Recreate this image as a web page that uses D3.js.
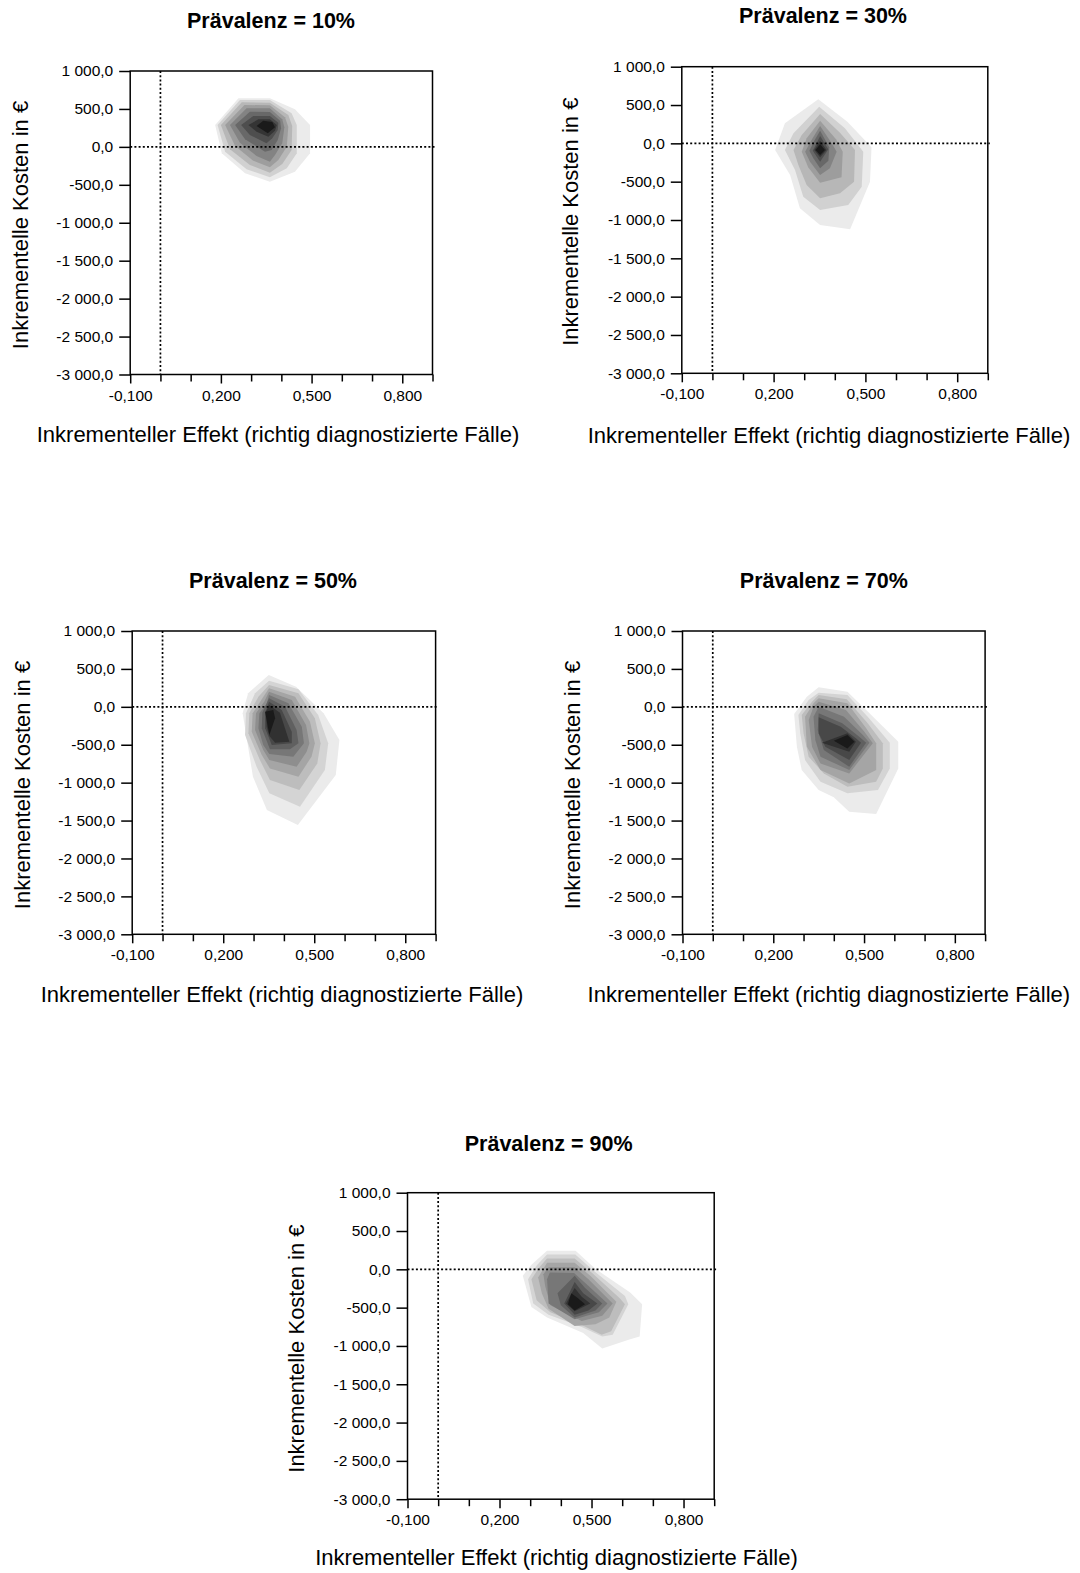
<!DOCTYPE html>
<html>
<head>
<meta charset="utf-8">
<script src="https://cdn.jsdelivr.net/npm/d3@7"></script>
<style>
  body { margin: 0; background: #ffffff; }
  text { font-family: "Liberation Sans", Arial, sans-serif; fill: #000; }
</style>
</head>
<body>
<svg id="chart" width="1080" height="1573"></svg>
<script>
// ---------------- data ----------------
const panelTitles = ["Prävalenz = 10%", "Prävalenz = 30%", "Prävalenz = 50%", "Prävalenz = 70%", "Prävalenz = 90%"];
const xAxisTitle = "Inkrementeller Effekt (richtig diagnostizierte Fälle)";
const yAxisTitle = "Inkrementelle Kosten in €";

const xDomain = [-0.1, 0.9];
const yDomain = [-3000, 1000];
const xMinorTicks = [0.0, 0.1, 0.3, 0.4, 0.6, 0.7, 0.9];
const xMajorTicks = [-0.1, 0.2, 0.5, 0.8];
const xTickLabels = ["-0,100", "0,200", "0,500", "0,800"];
const yTicks = [1000, 500, 0, -500, -1000, -1500, -2000, -2500, -3000];
const yTickLabels = ["1 000,0", "500,0", "0,0", "-500,0", "-1 000,0", "-1 500,0", "-2 000,0", "-2 500,0", "-3 000,0"];

// density contour bands (outermost first), [effect, cost]
const contours10 = [
  [[0.181,288],[0.258,640],[0.362,640],[0.445,495],[0.495,288],[0.495,-85],[0.445,-327],[0.362,-458],[0.280,-349],[0.203,-85]],
  [[0.189,288],[0.263,618],[0.362,618],[0.434,442],[0.451,288],[0.451,-85],[0.418,-283],[0.362,-401],[0.285,-296],[0.214,-63]],
  [[0.200,288],[0.269,587],[0.362,583],[0.423,420],[0.436,275],[0.434,-41],[0.403,-226],[0.362,-340],[0.296,-239],[0.230,-32]],
  [[0.214,288],[0.278,552],[0.362,548],[0.412,389],[0.423,266],[0.418,3],[0.390,-173],[0.362,-270],[0.307,-182],[0.247,12]],
  [[0.230,288],[0.285,508],[0.362,508],[0.403,363],[0.410,258],[0.403,47],[0.379,-107],[0.362,-195],[0.318,-120],[0.263,56]],
  [[0.247,288],[0.296,464],[0.362,460],[0.396,345],[0.399,244],[0.388,91],[0.368,-41],[0.346,-63],[0.280,100]],
  [[0.267,288],[0.307,407],[0.362,407],[0.390,319],[0.388,222],[0.370,113],[0.351,47],[0.296,157]],
  [[0.291,288],[0.324,363],[0.362,363],[0.385,288],[0.379,214],[0.357,135],[0.318,200]],
  [[0.318,275],[0.340,345],[0.370,328],[0.379,258],[0.355,178]]
];

const contours30 = [
  [[0.346,574],[0.441,283],[0.520,-52],[0.515,-500],[0.450,-1122],[0.352,-1065],[0.286,-848],[0.254,-413],[0.205,-87],[0.237,261]],
  [[0.349,479],[0.433,196],[0.493,-109],[0.488,-565],[0.444,-804],[0.352,-870],[0.297,-696],[0.270,-348],[0.237,-87],[0.265,131]],
  [[0.352,383],[0.417,139],[0.466,-87],[0.463,-500],[0.417,-652],[0.352,-717],[0.308,-543],[0.281,-283],[0.265,-87],[0.292,109]],
  [[0.352,296],[0.404,52],[0.426,-109],[0.422,-443],[0.352,-513],[0.313,-313],[0.292,-109],[0.308,65]],
  [[0.352,226],[0.390,0],[0.406,-109],[0.384,-326],[0.352,-413],[0.319,-239],[0.303,-109],[0.324,44]],
  [[0.352,165],[0.382,-52],[0.379,-226],[0.352,-326],[0.330,-196],[0.317,-96],[0.333,35]],
  [[0.352,96],[0.379,-78],[0.352,-239],[0.328,-96]],
  [[0.352,35],[0.373,-87],[0.352,-182],[0.333,-87]],
  [[0.352,-13],[0.368,-87],[0.352,-152],[0.337,-87]]
];

const contours50 = [
  [[0.350,420],[0.440,266],[0.531,-86],[0.583,-438],[0.571,-899],[0.446,-1559],[0.344,-1361],[0.298,-921],[0.264,-86],[0.282,178]],
  [[0.351,345],[0.448,231],[0.513,-108],[0.546,-482],[0.535,-833],[0.453,-1317],[0.352,-1141],[0.310,-790],[0.272,-372],[0.275,-86],[0.305,178]],
  [[0.351,288],[0.448,178],[0.502,-152],[0.521,-482],[0.510,-746],[0.451,-1097],[0.354,-965],[0.321,-702],[0.283,-350],[0.286,-86],[0.316,134]],
  [[0.351,244],[0.437,134],[0.486,-196],[0.502,-482],[0.491,-658],[0.448,-921],[0.354,-812],[0.327,-636],[0.294,-328],[0.297,-86],[0.327,99]],
  [[0.351,200],[0.426,90],[0.473,-240],[0.484,-482],[0.475,-592],[0.442,-790],[0.352,-702],[0.332,-570],[0.305,-306],[0.308,-86],[0.335,68]],
  [[0.351,156],[0.415,46],[0.459,-262],[0.466,-482],[0.431,-658],[0.352,-622],[0.332,-504],[0.316,-284],[0.319,-86],[0.343,37]],
  [[0.351,112],[0.404,2],[0.442,-306],[0.448,-482],[0.420,-561],[0.354,-561],[0.327,-284],[0.329,-77]],
  [[0.351,68],[0.393,-42],[0.426,-328],[0.426,-482],[0.360,-504],[0.338,-284],[0.338,-77]],
  [[0.351,24],[0.387,-77],[0.418,-460],[0.371,-473],[0.352,-385],[0.343,-262],[0.341,-64]],
  [[0.338,-64],[0.365,-42],[0.371,-152],[0.352,-372]]
];

const contours70 = [
  [[0.350,257],[0.445,200],[0.507,-42],[0.613,-460],[0.613,-812],[0.540,-1414],[0.451,-1383],[0.400,-1194],[0.350,-1097],[0.294,-834],[0.278,-526],[0.269,-95],[0.311,134]],
  [[0.350,186],[0.445,156],[0.512,-130],[0.585,-473],[0.585,-812],[0.546,-1097],[0.445,-1141],[0.356,-988],[0.305,-702],[0.289,-350],[0.283,-108],[0.317,90]],
  [[0.350,156],[0.443,99],[0.512,-218],[0.562,-482],[0.562,-812],[0.540,-988],[0.445,-1054],[0.367,-878],[0.317,-658],[0.300,-350],[0.294,-108],[0.328,68]],
  [[0.350,112],[0.445,46],[0.507,-284],[0.540,-482],[0.540,-834],[0.451,-1010],[0.356,-834],[0.311,-526],[0.305,-130],[0.333,46]],
  [[0.350,68],[0.440,-42],[0.501,-328],[0.529,-482],[0.451,-878],[0.356,-746],[0.328,-526],[0.317,-174],[0.333,2]],
  [[0.350,2],[0.434,-130],[0.496,-372],[0.518,-473],[0.451,-834],[0.356,-658],[0.339,-438],[0.333,-130]],
  [[0.350,-86],[0.428,-218],[0.484,-394],[0.507,-473],[0.451,-790],[0.367,-570],[0.347,-306]],
  [[0.350,-139],[0.423,-262],[0.473,-416],[0.490,-473],[0.451,-702],[0.372,-526],[0.350,-350]],
  [[0.361,-473],[0.445,-350],[0.473,-460],[0.451,-592]],
  [[0.400,-447],[0.445,-372],[0.468,-460],[0.445,-548]]
];

const contours90 = [
  [[0.355,244],[0.448,244],[0.513,5],[0.626,-302],[0.665,-456],[0.657,-876],[0.626,-912],[0.535,-1034],[0.473,-831],[0.355,-628],[0.304,-492],[0.276,-85],[0.304,59]],
  [[0.355,195],[0.447,195],[0.507,-18],[0.609,-348],[0.620,-456],[0.569,-854],[0.535,-876],[0.468,-754],[0.360,-592],[0.310,-447],[0.293,-131],[0.321,50]],
  [[0.355,140],[0.445,140],[0.502,-49],[0.592,-379],[0.609,-456],[0.564,-808],[0.533,-854],[0.468,-727],[0.366,-560],[0.321,-402],[0.304,-131],[0.330,27]],
  [[0.355,86],[0.445,86],[0.496,-85],[0.581,-424],[0.558,-628],[0.513,-718],[0.445,-741],[0.360,-515],[0.338,-311],[0.326,-108]],
  [[0.360,27],[0.445,27],[0.490,-131],[0.569,-447],[0.535,-605],[0.468,-673],[0.366,-470],[0.349,-221],[0.343,-63]],
  [[0.364,-40],[0.443,-49],[0.485,-198],[0.552,-447],[0.524,-560],[0.445,-650],[0.360,-447],[0.355,-131]],
  [[0.445,-85],[0.479,-244],[0.535,-447],[0.513,-537],[0.445,-628],[0.400,-470],[0.389,-311]],
  [[0.445,-167],[0.473,-311],[0.519,-447],[0.490,-537],[0.445,-592],[0.411,-447]],
  [[0.445,-244],[0.468,-357],[0.496,-447],[0.445,-546],[0.417,-447]],
  [[0.434,-311],[0.456,-379],[0.479,-456],[0.445,-537],[0.423,-456]]
];

const panelContours = [contours10, contours30, contours50, contours70, contours90];

// ---------------- layout ----------------
const layout = [
  { l: 130.2, r: 432.5, t: 71.0,   b: 374.5,  tx: 271,   ty: 28.3,   xx: 278,   xy: 441.7,  yx: 20.7,  yy: 225 },
  { l: 681.8, r: 987.8, t: 66.7,   b: 373.3,  tx: 823,   ty: 23.3,   xx: 829,   xy: 443,    yx: 570,   yy: 221.7 },
  { l: 132.2, r: 435.6, t: 631.0,  b: 934.3,  tx: 273,   ty: 588.3,  xx: 282,   xy: 1001.7, yx: 22.4,  yy: 785 },
  { l: 682.5, r: 985.1, t: 631.0,  b: 934.3,  tx: 823.8, ty: 588.3,  xx: 828.9, xy: 1001.7, yx: 572,   yy: 785 },
  { l: 407.5, r: 714.2, t: 1192.7, b: 1499.2, tx: 548.7, ty: 1150.5, xx: 556.5, xy: 1565,   yx: 296,   yy: 1348.6 }
];

const svg = d3.select("#chart");

panelContours.forEach((bands, i) => {
  const L = layout[i];
  const x = d3.scaleLinear().domain(xDomain).range([L.l, L.r]);
  const y = d3.scaleLinear().domain(yDomain).range([L.b, L.t]);
  const g = svg.append("g");

  const shade = d3.scaleLinear().domain([0, bands.length - 1]).range(["#ebebeb", "#1a1a1a"]);
  const line = d3.line().x(d => x(d[0])).y(d => y(d[1])).curve(d3.curveLinearClosed);

  g.selectAll("path.band").data(bands).join("path")
    .attr("class", "band")
    .attr("d", d => line(d))
    .attr("fill", (d, k) => shade(k))
    .attr("stroke", "none");

  // reference lines at 0
  g.append("line")
    .attr("x1", x(0)).attr("x2", x(0)).attr("y1", L.t).attr("y2", L.b)
    .attr("stroke", "#000").attr("stroke-width", 1.7).attr("stroke-dasharray", "2,2.2");
  g.append("line")
    .attr("x1", L.l).attr("x2", L.r + 2).attr("y1", y(0)).attr("y2", y(0))
    .attr("stroke", "#000").attr("stroke-width", 1.7).attr("stroke-dasharray", "2,2.2");

  // frame
  g.append("rect")
    .attr("x", L.l).attr("y", L.t).attr("width", L.r - L.l).attr("height", L.b - L.t)
    .attr("fill", "none").attr("stroke", "#000").attr("stroke-width", 1.5);

  // y axis
  const ya = g.append("g").attr("transform", `translate(${L.l},0)`)
    .call(d3.axisLeft(y).tickValues(yTicks).tickFormat((d, k) => yTickLabels[k]).tickSize(11).tickPadding(6).tickSizeOuter(0));
  ya.select(".domain").remove();
  ya.selectAll("line").attr("stroke-width", 1.5);
  ya.selectAll("text").style("font-size", "15.5px").attr("font-family", "Liberation Sans, Arial, sans-serif");

  // x axis: minor ticks
  const xm = g.append("g").attr("transform", `translate(0,${L.b})`)
    .call(d3.axisBottom(x).tickValues(xMinorTicks).tickFormat("").tickSize(7).tickSizeOuter(0));
  xm.select(".domain").remove();
  xm.selectAll("line").attr("stroke-width", 1.5);

  // x axis: labelled ticks
  const xa = g.append("g").attr("transform", `translate(0,${L.b})`)
    .call(d3.axisBottom(x).tickValues(xMajorTicks).tickFormat((d, k) => xTickLabels[k]).tickSize(9).tickPadding(6).tickSizeOuter(0));
  xa.select(".domain").remove();
  xa.selectAll("line").attr("stroke-width", 1.5);
  xa.selectAll("text").style("font-size", "15.5px").attr("font-family", "Liberation Sans, Arial, sans-serif");

  // titles
  g.append("text").attr("x", L.tx).attr("y", L.ty).attr("text-anchor", "middle")
    .style("font-size", "21.5px").style("font-weight", "bold").text(panelTitles[i]);
  g.append("text").attr("x", L.xx).attr("y", L.xy).attr("text-anchor", "middle")
    .style("font-size", "22px").text(xAxisTitle);
  g.append("text").attr("transform", `translate(${L.yx},${L.yy}) rotate(-90)`)
    .attr("text-anchor", "middle").attr("dy", "0.35em")
    .style("font-size", "22px").text(yAxisTitle);
});
</script>
</body>
</html>
